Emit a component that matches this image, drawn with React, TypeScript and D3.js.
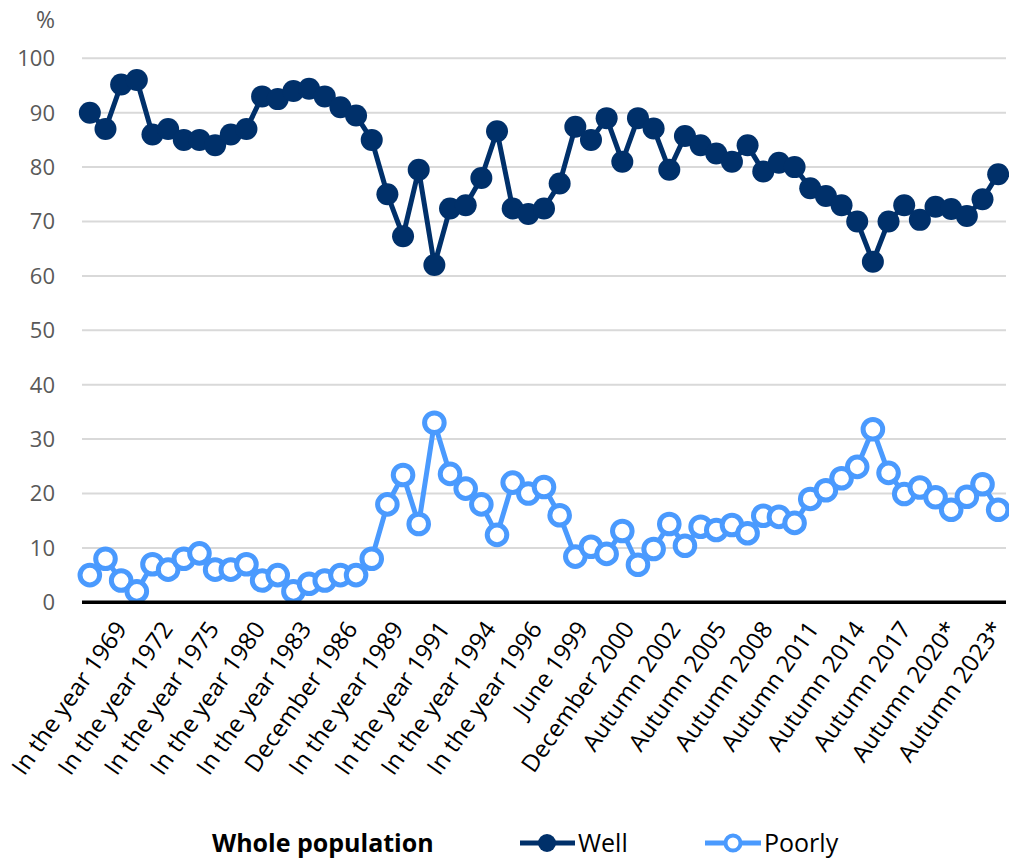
import React from "react";
import * as d3 from "d3";

const tickLabels = [
  "In the year 1969", "In the year 1972", "In the year 1975", "In the year 1980",
  "In the year 1983", "December 1986", "In the year 1989", "In the year 1991",
  "In the year 1994", "In the year 1996", "June 1999", "December 2000",
  "Autumn 2002", "Autumn 2005", "Autumn 2008", "Autumn 2011",
  "Autumn 2014", "Autumn 2017", "Autumn 2020*", "Autumn 2023*",
];

const wellValues = [
  90, 87, 95.2, 96, 86, 87, 85, 85, 84, 86, 87, 93, 92.5, 94, 94.4, 93, 91, 89.5, 85, 75,
  67.3, 79.5, 62, 72.4, 73, 78, 86.6, 72.4, 71.4, 72.4, 77, 87.4, 85, 89, 81, 89, 87.1, 79.5, 85.7, 84,
  82.5, 81, 84, 79.2, 80.8, 80, 76.1, 74.7, 73, 70, 62.6, 70, 73, 70.3, 72.7, 72.3, 71, 74.1, 78.7,
];

const poorlyValues = [
  5, 8, 4, 2, 7, 6, 8, 9, 6, 6, 7, 4, 5, 2, 3.4, 4, 5, 5, 8, 18,
  23.4, 14.4, 33, 23.6, 20.9, 18, 12.4, 22, 20, 21.2, 16, 8.4, 10.2, 8.9, 13.1, 6.9, 9.8, 14.4, 10.4, 13.9,
  13.3, 14.2, 12.7, 15.9, 15.7, 14.6, 19, 20.6, 22.8, 24.9, 31.8, 23.8, 19.9, 21.1, 19.3, 17, 19.4, 21.7, 17,
];

const yTicks = [0, 10, 20, 30, 40, 50, 60, 70, 80, 90, 100];
const labelEvery = 3;

const W = 1009;
const H = 858;
const FONT = "'Open Sans', 'Noto Sans', sans-serif";
const WELL = "#00306a";
const POORLY = "#4a9afe";

export default function App() {
  const idx = d3.range(wellValues.length);
  const x = d3.scalePoint<number>().domain(idx).range([82, 1006]).padding(0.5);
  const y = d3.scaleLinear().domain([0, 100]).range([602.3, 58.3]);
  const line = d3
    .line<number>()
    .x((_, i) => x(i) as number)
    .y((d) => y(d));

  const labelX = d3
    .scaleLinear()
    .domain([0, tickLabels.length - 1])
    .range([(x(0) as number) + 38, (x((tickLabels.length - 1) * labelEvery) as number) + 22]);

  return (
    <svg
      width={W}
      height={H}
      style={{ position: "absolute", left: 0, top: 0, background: "#fff" }}
      fontFamily={FONT}
    >
      {/* gridlines */}
      {yTicks.filter((t) => t > 0).map((t) => (
        <line key={t} x1={82} x2={1006} y1={y(t)} y2={y(t)} stroke="#d9d9d9" strokeWidth={2} />
      ))}
      {/* y tick labels */}
      {yTicks.map((t) => (
        <text key={t} x={55} y={y(t)} dy="0.36em" textAnchor="end" fontSize={22} fill="#595959">
          {t}
        </text>
      ))}
      <text x={55} y={20} dy="0.36em" textAnchor="end" fontSize={23} fill="#595959">%</text>

      {/* series */}
      <path d={line(wellValues) as string} fill="none" stroke={WELL} strokeWidth={5} strokeLinejoin="round" />
      {wellValues.map((v, i) => (
        <circle key={i} cx={x(i)} cy={y(v)} r={11} fill={WELL} />
      ))}
      <path d={line(poorlyValues) as string} fill="none" stroke={POORLY} strokeWidth={5} strokeLinejoin="round" />
      {poorlyValues.map((v, i) => (
        <circle key={i} cx={x(i)} cy={y(v)} r={9.8} fill="#fff" stroke={POORLY} strokeWidth={5} />
      ))}

      {/* x axis */}
      <line x1={82} x2={1006} y1={y(0)} y2={y(0)} stroke="#000" strokeWidth={3.5} />
      {tickLabels.map((lab, k) => (
        <text
          key={lab}
          transform={`translate(${labelX(k)},${629}) rotate(-55)`}
          textAnchor="end"
          fontSize={24}
          fill="#000"
        >
          {lab}
        </text>
      ))}

      {/* legend */}
      <text x={212} y={852} fontSize={25} fontWeight="bold" fill="#000">Whole population</text>
      <line x1={520} x2={575} y1={843} y2={843} stroke={WELL} strokeWidth={5} />
      <circle cx={547} cy={843} r={9} fill={WELL} />
      <text x={578} y={852} fontSize={25} fill="#000">Well</text>
      <line x1={705} x2={761} y1={843} y2={843} stroke={POORLY} strokeWidth={5} />
      <circle cx={733} cy={843} r={7.5} fill="#fff" stroke={POORLY} strokeWidth={4} />
      <text x={764} y={852} fontSize={25} fill="#000">Poorly</text>
    </svg>
  );
}
